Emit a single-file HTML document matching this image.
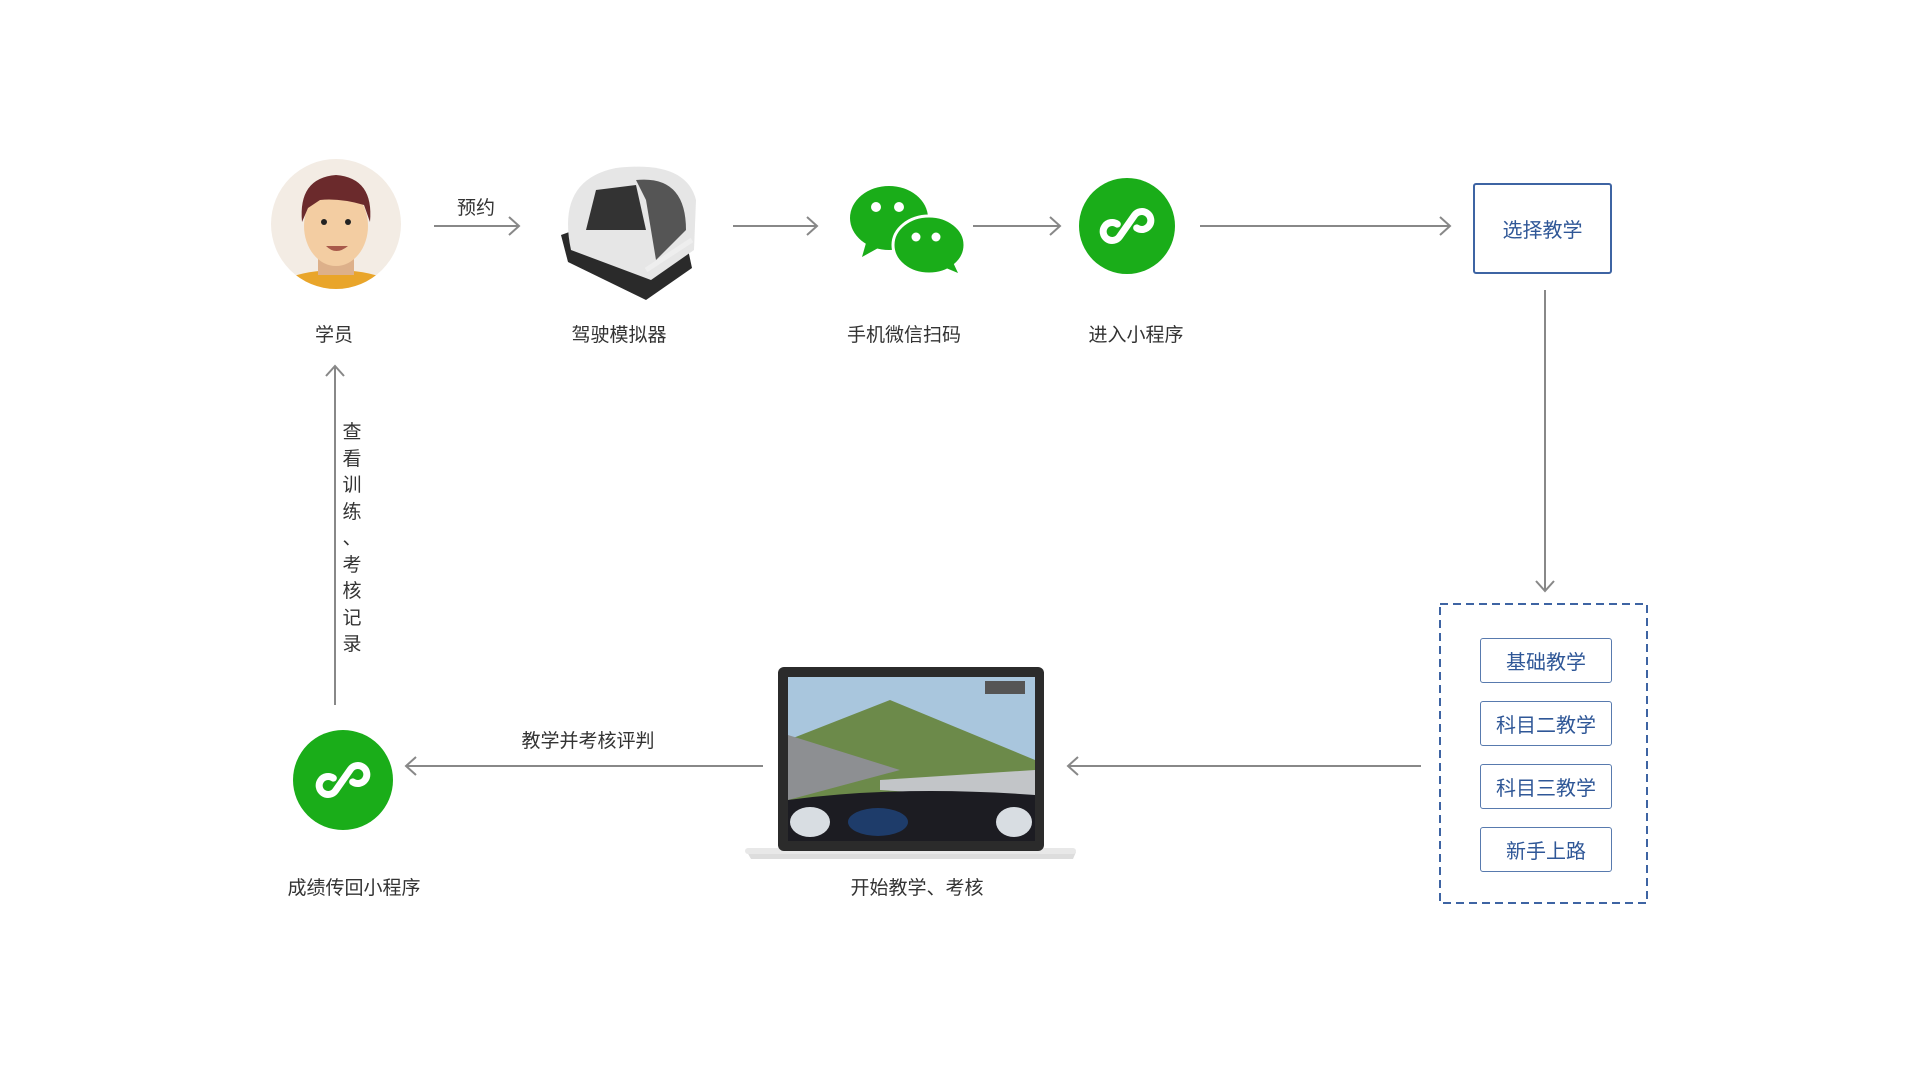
<!DOCTYPE html>
<html><head><meta charset="utf-8"><style>
html,body{margin:0;padding:0;background:#fff;}
body{width:1920px;height:1080px;position:relative;overflow:hidden;font-family:"Liberation Sans","Noto Sans CJK SC",sans-serif;}
.t{position:absolute;font-size:19px;color:#333;white-space:nowrap;transform:translateX(-50%);}
.b{position:absolute;border:2px solid #3e64a3;color:#2f5797;font-size:20px;display:flex;align-items:center;justify-content:center;box-sizing:border-box;border-radius:3px;}
.s{border-width:1.5px;border-color:#587aae;}
</style></head><body>
<svg width="1920" height="1080" style="position:absolute;left:0;top:0">
<defs>
<clipPath id="pc"><circle cx="336" cy="224" r="65"/></clipPath>
<g id="mp"><path d="M-9 4 a9 9 0 1 0 9 9 V-13 a9 9 0 1 1 9 9" fill="none" stroke="#fff" stroke-width="7" stroke-linecap="round" transform="rotate(35)"/></g>
</defs>
<g stroke="#888" stroke-width="2" fill="none">
<line x1="434" y1="226" x2="519" y2="226"/><polyline points="509,217 519,226 509,235"/>
<line x1="733" y1="226" x2="817" y2="226"/><polyline points="807,217 817,226 807,235"/>
<line x1="973" y1="226" x2="1060" y2="226"/><polyline points="1050,217 1060,226 1050,235"/>
<line x1="1200" y1="226" x2="1450" y2="226"/><polyline points="1440,217 1450,226 1440,235"/>
<line x1="1545" y1="290" x2="1545" y2="591"/><polyline points="1536,581 1545,591 1554,581"/>
<line x1="1421" y1="766" x2="1068" y2="766"/><polyline points="1078,757 1068,766 1078,775"/>
<line x1="763" y1="766" x2="406" y2="766"/><polyline points="416,757 406,766 416,775"/>
<line x1="335" y1="705" x2="335" y2="366"/><polyline points="326,376 335,366 344,376"/>
</g>
<circle cx="336" cy="224" r="65" fill="#f3ece4"/>
<g clip-path="url(#pc)">
<ellipse cx="336" cy="300" rx="70" ry="30" fill="#e9a52a"/>
<rect x="318" y="240" width="36" height="35" fill="#ddb08a"/>
<ellipse cx="336" cy="226" rx="32" ry="40" fill="#f3cda2"/>
<path d="M302 222 Q298 178 336 175 Q374 178 370 222 L364 205 Q340 198 320 200 L308 208 Z" fill="#6b2a2c"/>
<circle cx="324" cy="222" r="3" fill="#222"/><circle cx="348" cy="222" r="3" fill="#222"/>
<path d="M326 246 Q336 256 348 246 Z" fill="#a8594a"/>
</g>
<g>
<path d="M568 262 L646 300 L692 268 L686 240 L616 215 L561 235 Z" fill="#2a2a2a"/>
<path d="M571 250 Q556 180 616 168 Q686 160 696 200 L694 250 L651 280 Z" fill="#e6e6e6"/>
<path d="M586 230 L596 190 L636 185 L646 230 Z" fill="#333"/>
<path d="M636 180 Q686 175 686 230 L656 260 L646 200 Z" fill="#555"/>
<path d="M646 270 L692 240" stroke="#eee" stroke-width="5"/>
</g>
<g fill="#1aad19">
<ellipse cx="889" cy="218" rx="39" ry="32"/>
<path d="M866 243 L862 257 L880 247 Z"/>
<ellipse cx="929" cy="245" rx="36" ry="29" stroke="#fff" stroke-width="3"/>
<path d="M946 268 L958 273 L951 258 Z"/>
</g>
<g fill="#fff"><circle cx="876" cy="207" r="5"/><circle cx="899" cy="207" r="5"/><circle cx="916" cy="237" r="4.5"/><circle cx="936" cy="237" r="4.5"/></g>
<circle cx="1127" cy="226" r="48" fill="#1aad19"/>
<use href="#mp" transform="translate(1127,226)"/>
<circle cx="343" cy="780" r="50" fill="#1aad19"/>
<use href="#mp" transform="translate(343,780)"/>
<g>
<path d="M747 852 L1076 852 L1073 859 L751 859 Z" fill="#ddd"/>
<rect x="745" y="848" width="331" height="6" rx="3" fill="#e8e8e8"/>
<rect x="778" y="667" width="266" height="184" rx="6" fill="#2b2b2b"/>
<rect x="788" y="677" width="247" height="164" fill="#a9c6dd"/>
<path d="M788 740 L890 700 L1035 760 L1035 841 L788 841 Z" fill="#6c8a4a"/>
<path d="M788 735 L900 770 L788 800 Z" fill="#8d8f92"/>
<path d="M880 780 L1035 770 L1035 800 L880 790 Z" fill="#c2c5c8"/>
<path d="M788 800 Q900 785 1035 795 L1035 841 L788 841 Z" fill="#1c1c22"/>
<ellipse cx="878" cy="822" rx="30" ry="14" fill="#1e3c6a"/>
<ellipse cx="810" cy="822" rx="20" ry="15" fill="#d8dde2"/>
<ellipse cx="1014" cy="822" rx="18" ry="15" fill="#d8dde2"/>
<rect x="985" y="681" width="40" height="13" fill="#555"/>
</g>
<rect x="1440" y="604" width="207" height="299" fill="none" stroke="#3e64a3" stroke-width="2" stroke-dasharray="8,5"/>
</svg>
<div class="t" style="left:476px;top:193px">预约</div>
<div class="t" style="left:334px;top:320px">学员</div>
<div class="t" style="left:619px;top:320px">驾驶模拟器</div>
<div class="t" style="left:904px;top:320px">手机微信扫码</div>
<div class="t" style="left:1136px;top:320px">进入小程序</div>
<div class="t" style="left:588px;top:726px">教学并考核评判</div>
<div class="t" style="left:354px;top:873px">成绩传回小程序</div>
<div class="t" style="left:917px;top:873px">开始教学、考核</div>
<div class="t" style="left:352px;top:420px;line-height:26.5px;text-align:center">查<br>看<br>训<br>练<br>、<br>考<br>核<br>记<br>录</div>
<div class="b" style="left:1473px;top:183px;width:139px;height:91px">选择教学</div>
<div class="b s" style="left:1480px;top:638px;width:132px;height:45px">基础教学</div>
<div class="b s" style="left:1480px;top:701px;width:132px;height:45px">科目二教学</div>
<div class="b s" style="left:1480px;top:764px;width:132px;height:45px">科目三教学</div>
<div class="b s" style="left:1480px;top:827px;width:132px;height:45px">新手上路</div>
</body></html>
